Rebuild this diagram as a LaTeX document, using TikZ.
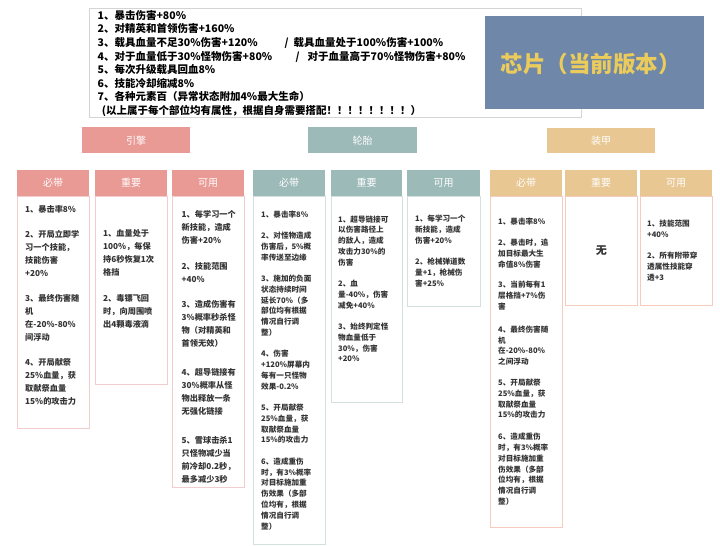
\documentclass[tikz,border=0pt]{standalone}
\usepackage{fontspec}
\newfontfamily\cjk{Noto Sans CJK SC}
\definecolor{engc}{HTML}{E99A95}
\definecolor{tirec}{HTML}{9CBAB8}
\definecolor{armc}{HTML}{E8C792}
\definecolor{engb}{HTML}{F2CDCD}
\definecolor{tireb}{HTML}{D2E0DF}
\definecolor{armb}{HTML}{F4CBBD}
\definecolor{titlec}{HTML}{6F87A8}
\definecolor{titlet}{HTML}{EACB5B}
\definecolor{txt}{HTML}{333333}
\definecolor{topb}{HTML}{D4D4D4}
\begin{document}
\begin{tikzpicture}[x=1pt,y=-1pt,
  hdr/.style={fill=#1, draw=none, text=white, anchor=north west, inner sep=0pt,
    minimum height=26pt, minimum width=108pt, font=\cjk\fontsize{10}{12}\selectfont},
  subhdr/.style={fill=#1, draw=none, text=white, anchor=north west, inner sep=0pt,
    minimum height=25.5pt, minimum width=72pt, font=\cjk\fontsize{10}{12}\selectfont},
  bodybox/.style={draw=#1, line width=0.8pt, fill=white, anchor=north west,
    inner sep=0pt, minimum width=72pt},
  bodytext/.style={anchor=west, inner sep=0pt, align=left, text=txt},
  engtxt/.style={bodytext, font=\cjk\bfseries\fontsize{8.2}{13}\selectfont},
  smtxt/.style={bodytext, font=\cjk\bfseries\fontsize{7.6}{10.8}\selectfont}]
\useasboundingbox (0,0) rectangle (720,546);

% top info box
\node[draw=topb, line width=0.8pt, anchor=north west, minimum width=492pt, minimum height=109pt, inner sep=0pt] (info) at (89,8) {};
\node[anchor=north west, inner sep=0pt, align=left, text=black,
  font=\cjk\bfseries\fontsize{10.5}{13.6}\selectfont] (infotext) at (97.5,10) {%
1、暴击伤害+80\%\\
2、对精英和首领伤害+160\%\\
\makebox[187pt][l]{3、载具血量不足30\%伤害+120\%}/\hspace{5pt}载具血量处于100\%伤害+100\%\\
\makebox[198pt][l]{4、对于血量低于30\%怪物伤害+80\%}/\hspace{8pt}对于血量高于70\%怪物伤害+80\%\\
5、每次升级载具回血8\%\\
6、技能冷却缩减8\%\\
7、各种元素百（异常状态附加4\%最大生命）\\
\hspace{0.4em}(以上属于每个部位均有属性，根据自身需要搭配！！！！！！！！）};

% title
\node[fill=titlec, anchor=north west, minimum width=219pt, minimum height=93pt, inner sep=0pt] (title) at (485,16) {};
\node[text=titlet, font=\cjk\bfseries\fontsize{22.5}{26}\selectfont, inner sep=0pt] (titletext) at (590.5,64) {芯片（当前版本）};

% section headers
\node[hdr=engc] (engH) at (82,127) {引擎};
\node[hdr=tirec, minimum width=109pt] (tireH) at (308,127) {轮胎};
\node[hdr=armc, minimum height=25pt] (armH) at (547,128) {装甲};

% engine
\node[subhdr=engc] (e1h) at (17,170) {必带};
\node[subhdr=engc] (e2h) at (95,170) {重要};
\node[subhdr=engc] (e3h) at (172,170) {可用};
\node[bodybox=engb, minimum height=232pt] (e1) at (e1h.south west) {};
\node[bodybox=engb, minimum height=188pt] (e2) at (e2h.south west) {};
\node[bodybox=engb, minimum height=291pt] (e3) at (e3h.south west) {};
\node[engtxt] (e1t) at ([xshift=8pt,yshift=6.5pt]e1.west) {%
1、暴击率8\%\\[12pt]
2、开局立即学\\习一个技能，\\技能伤害\\+20\%\\[12pt]
3、最终伤害随\\机\\在-20\%-80\%\\间浮动\\[12pt]
4、开局献祭\\25\%血量，获\\取献祭血量\\15\%的攻击力};
\node[engtxt] (e2t) at ([xshift=8pt,yshift=11pt]e2.west) {%
1、血量处于\\100\%，每保\\持6秒恢复1次\\格挡\\[13pt]
2、毒镖飞回\\时，向周围喷\\出4颗毒液滴};
\node[engtxt] (e3t) at ([xshift=9.5pt,yshift=-5pt]e3.west) {%
1、每学习一个\\新技能，造成\\伤害+20\%\\[13pt]
2、技能范围\\+40\%\\[12pt]
3、造成伤害有\\3\%概率秒杀怪\\物（对精英和\\首领无效）\\[16pt]
4、超导链接有\\30\%概率从怪\\物出释放一条\\无强化链接\\[16pt]
5、雪球击杀1\\只怪物减少当\\前冷却0.2秒，\\最多减少3秒};

% tire
\node[subhdr=tirec] (t1h) at (253,170) {必带};
\node[subhdr=tirec, minimum width=71pt] (t2h) at (331,170) {重要};
\node[subhdr=tirec, minimum width=73pt] (t3h) at (407,170) {可用};
\node[bodybox=tireb, minimum height=348pt] (t1) at (t1h.south west) {};
\node[bodybox=tireb, minimum width=71pt, minimum height=206pt] (t2) at (t2h.south west) {};
\node[bodybox=tireb, minimum width=73pt, minimum height=110pt] (t3) at (t3h.south west) {};
\node[smtxt] (t1t) at ([xshift=8pt]t1.west) {%
1、暴击率8\%\\[10.5pt]
2、对怪物造成\\伤害后，5\%概\\率传送至边缘\\[10.5pt]
3、施加的负面\\状态持续时间\\延长70\%（多\\部位均有根据\\情况自行调\\整）\\[10.5pt]
4、伤害\\+120\%屏幕内\\每有一只怪物\\效果-0.2\%\\[10.5pt]
5、开局献祭\\25\%血量，获\\取献祭血量\\15\%的攻击力\\[10.5pt]
6、造成重伤\\时，有3\%概率\\对目标施加重\\伤效果（多部\\位均有，根据\\情况自行调\\整）};
\node[smtxt] (t2t) at ([xshift=7pt,yshift=10.5pt]t2.west) {%
1、超导链接可\\以伤害路径上\\的敌人，造成\\攻击力30\%的\\伤害\\[10.5pt]
2、血\\量-40\%，伤害\\减免+40\%\\[10.5pt]
3、始终判定怪\\物血量低于\\30\%，伤害\\+20\%};
\node[smtxt] (t3t) at ([xshift=8pt]t3.west) {%
1、每学习一个\\新技能，造成\\伤害+20\%\\[10.5pt]
2、枪械弹道数\\量+1，枪械伤\\害+25\%};

% armor
\node[subhdr=armc] (a1h) at (490,170) {必带};
\node[subhdr=armc] (a2h) at (565,170) {重要};
\node[subhdr=armc] (a3h) at (640,170) {可用};
\node[bodybox=armb, minimum height=331pt] (a1) at (a1h.south west) {};
\node[bodybox=armb, minimum height=109pt] (a2) at (a2h.south west) {};
\node[bodybox=armb, minimum height=109pt] (a3) at (a3h.south west) {};
\node[smtxt] (a1t) at ([xshift=8pt]a1.west) {%
1、暴击率8\%\\[10pt]
2、暴击时，追\\加目标最大生\\命值8\%伤害\\[10pt]
3、当前每有1\\层格挡+7\%伤\\害\\[12pt]
4、最终伤害随\\机\\在-20\%-80\%\\之间浮动\\[10pt]
5、开局献祭\\25\%血量，获\\取献祭血量\\15\%的攻击力\\[11pt]
6、造成重伤\\时，有3\%概率\\对目标施加重\\伤效果（多部\\位均有，根据\\情况自行调\\整）};
\node[inner sep=0pt, text=txt, font=\cjk\bfseries\fontsize{11}{13}\selectfont] (a2t) at (a2.center) {无};
\node[smtxt] (a3t) at ([xshift=7pt]a3.west) {%
1、技能范围\\+40\%\\[10.5pt]
2、所有附带穿\\透属性技能穿\\透+3};
\end{tikzpicture}
\end{document}
